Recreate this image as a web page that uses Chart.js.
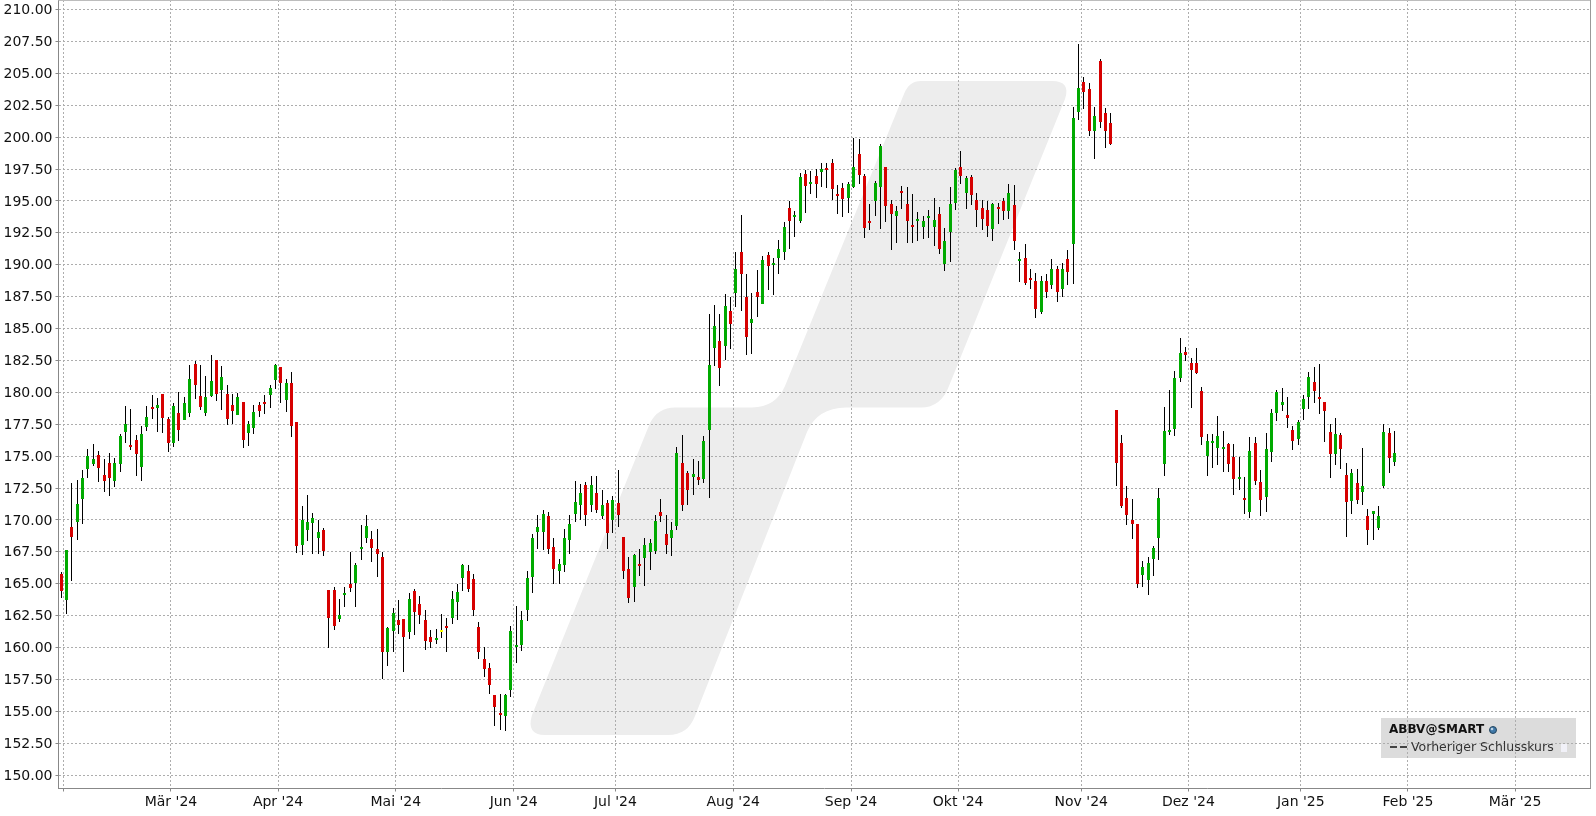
<!DOCTYPE html>
<html lang="de">
<head>
<meta charset="utf-8">
<title>ABBV@SMART</title>
<script src="https://cdn.jsdelivr.net/npm/chart.js@4"></script>
<style>
html,body{margin:0;padding:0;background:#fff;overflow:hidden}
#wrap{position:absolute;left:0;top:0;width:1596px;height:816px}
</style>
</head>
<body>
<div id="wrap"><canvas id="c" width="1596" height="816"></canvas></div>
<script>
const opens = [
165.75,163.74,169.43,169.85,171.65,173.98,174.37,175.05,173.51,174.45,
173.04,174.37,176.88,175.86,176.25,174.14,177.27,178.84,178.76,179.86,
177.9,176.02,178.37,177.82,178.37,182.21,179.7,178.37,179.7,182.52,
180.17,179.86,179.0,178.21,179.23,176.8,177.19,179.0,179.23,179.78,
180.96,181.98,179.39,180.72,177.66,168.02,169.2,169.75,168.57,169.2,
164.49,164.49,162.22,164.1,164.96,165.04,167.71,168.57,168.49,167.71,
167.08,159.63,161.28,162.14,162.22,161.2,164.41,163.39,162.14,160.81,
160.57,161.2,161.67,162.3,163.55,165.43,165.98,165.35,161.59,159.09,
158.38,156.3,154.87,154.63,156.66,160.03,160.18,162.92,165.51,169.03,
169.03,170.29,167.86,165.98,166.45,168.41,170.44,171.15,172.72,171.15,
172.09,170.29,171.31,169.97,171.31,168.64,166.14,164.73,166.53,167.0,
167.47,167.55,170.6,168.88,168.56,169.5,174.44,173.66,173.34,173.34,
173.19,177.03,183.5,184.05,183.66,186.4,187.81,191.02,187.49,185.46,
187.88,186.95,190.78,190.0,190.55,191.02,194.46,193.76,193.45,197.13,
196.34,196.97,197.28,197.6,197.99,195.56,196.03,195.25,196.11,198.69,
196.97,193.45,195.01,196.11,197.68,194.78,193.84,195.8,194.78,193.13,
193.45,192.98,193.68,192.98,193.99,190.08,192.58,194.86,197.68,195.64,
196.89,195.09,194.46,194.31,192.82,194.54,195.01,194.23,194.68,190.29,
190.53,188.96,188.73,186.3,188.73,188.41,189.67,188.1,190.45,191.63,
201.96,204.31,203.77,200.48,205.96,201.89,201.1,178.6,176.01,171.7,
169.98,169.66,165.66,165.27,166.92,168.56,174.37,176.87,177.11,181.11,
183.14,182.28,182.28,180.09,175.0,176.01,175.62,175.54,175.93,174.91,
173.19,171.7,170.6,176.01,172.95,171.78,175.31,178.36,178.99,178.21,
177.03,176.32,178.68,179.62,180.79,179.62,179.23,176.87,175.15,176.64,
173.5,171.46,172.88,172.17,170.29,170.45,169.35,172.67,176.82,174.55];
const closes = [
164.44,167.63,168.68,171.24,173.27,175.0,174.76,174.06,173.04,173.27,
174.45,176.57,177.5,175.7,175.16,176.72,178.06,178.68,179.0,177.98,
176.02,178.92,177.04,179.15,181.03,180.56,178.84,179.62,180.88,179.86,
181.19,177.9,178.53,179.62,176.25,177.5,178.45,178.53,179.07,180.33,
182.13,180.72,180.72,177.35,167.94,169.98,169.82,170.14,169.04,167.55,
162.3,161.67,162.53,164.26,164.65,166.45,167.87,169.51,167.79,167.32,
159.63,161.52,162.69,161.75,160.81,163.79,162.77,162.53,160.5,160.42,
160.73,161.2,161.51,163.79,164.33,166.45,164.57,162.92,159.63,158.3,
157.05,155.35,154.71,156.3,161.28,160.18,162.14,165.43,168.56,169.43,
170.44,167.7,166.14,166.53,168.56,169.66,171.38,172.09,170.37,172.72,
170.76,171.15,168.96,171.54,170.37,165.98,163.86,167.23,166.37,168.02,
168.17,169.9,170.29,168.02,169.19,175.22,171.15,172.32,173.58,173.11,
176.17,182.13,185.22,181.93,186.79,185.38,189.69,189.29,184.36,185.77,
187.49,190.39,189.92,190.16,191.25,192.98,193.45,193.92,196.89,196.19,
196.5,196.34,197.52,197.44,195.95,195.4,195.17,196.34,197.68,197.05,
192.9,193.29,196.42,199.32,194.62,194.0,194.23,195.64,193.45,192.98,
193.6,193.45,193.84,193.52,191.25,191.88,194.78,197.44,196.97,196.81,
195.48,194.31,193.6,193.05,194.78,194.39,194.23,195.64,191.86,190.45,
188.57,188.8,186.53,188.73,187.87,189.67,187.87,189.67,189.43,201.49,
203.84,203.53,200.48,201.65,201.18,200.48,199.46,174.44,171.07,170.37,
169.66,164.96,166.29,166.6,167.78,171.7,176.95,177.03,181.11,183.07,
182.91,181.73,181.5,176.48,176.17,176.17,176.56,175.7,174.37,173.19,
173.35,171.54,175.38,173.03,171.54,175.54,178.36,180.01,179.23,177.97,
176.17,177.66,179.46,181.18,180.09,179.46,178.52,175.15,176.72,175.54,
171.39,173.66,171.54,172.64,169.19,170.68,170.29,176.9,174.86,175.25];
const highs = [
165.9,167.68,172.86,173.1,173.95,175.55,175.94,175.39,174.76,175.23,
174.84,176.72,178.92,178.68,176.64,177.35,178.92,179.78,179.55,179.86,
178.06,179.15,180.02,179.62,182.13,182.45,182.13,181.27,182.92,182.52,
182.05,180.56,179.86,179.94,179.23,177.74,179.0,179.23,179.78,180.56,
182.21,181.98,181.03,181.58,177.66,171.08,171.94,170.53,169.98,169.35,
164.49,164.73,163.79,164.73,167.47,166.61,169.59,170.37,169.12,169.28,
167.47,161.59,163.08,163.71,162.22,164.26,164.57,164.02,162.92,161.36,
161.44,162.61,162.3,164.41,164.96,166.53,166.45,165.74,161.98,160.03,
158.77,156.3,156.36,156.36,161.67,163.24,162.85,165.98,168.88,170.37,
170.76,170.6,168.56,166.92,169.27,170.37,173.03,172.79,172.95,173.42,
173.42,172.32,171.54,171.85,173.89,168.64,167.08,167.31,167.7,168.56,
168.49,170.37,171.62,170.37,169.82,175.69,176.63,173.81,174.75,174.6,
176.56,186.12,186.87,186.16,187.73,187.49,191.02,193.92,189.29,187.81,
189.61,190.7,191.02,190.55,191.96,193.37,195.01,194.23,197.21,197.44,
197.36,197.52,197.99,197.99,198.3,196.27,196.42,196.5,199.95,199.87,
197.13,194.78,196.58,199.48,197.68,195.09,194.62,196.19,196.11,195.56,
194.15,193.84,194.31,195.25,194.54,192.9,196.11,197.6,198.93,196.97,
197.05,195.64,195.09,195.01,194.86,194.86,195.25,196.34,196.25,191.0,
191.63,189.67,189.35,189.12,189.28,190.45,189.9,190.14,191.16,202.36,
207.29,204.71,204.24,202.36,206.12,202.28,201.89,178.6,176.64,172.64,
171.62,169.66,166.76,167.07,167.94,172.48,178.83,180.17,181.66,184.24,
183.54,182.67,183.46,180.4,176.72,176.72,178.13,176.95,176.01,175.93,
174.91,173.35,176.48,176.48,173.89,176.8,178.68,180.17,180.32,179.62,
177.34,177.81,179.77,181.58,181.97,182.2,179.23,177.5,177.97,176.8,
174.44,173.97,173.97,175.62,170.84,170.68,171.07,177.5,177.21,176.98];
const lows = [
163.9,162.6,165.2,168.4,169.67,173.27,174.2,172.96,172.18,171.86,
172.57,173.74,176.02,175.47,173.43,173.04,176.96,177.9,176.88,176.8,
175.31,175.7,176.17,177.82,178.06,179.47,178.6,178.13,179.62,179.31,
178.6,177.43,177.5,178.21,175.63,175.78,176.72,178.06,178.29,178.76,
180.25,179.15,178.45,176.49,167.39,167.24,168.34,167.32,167.32,167.16,
159.95,161.36,161.99,163.16,164.34,163.16,166.85,168.18,166.69,165.51,
157.57,158.54,159.63,161.05,158.07,160.65,160.97,161.83,159.79,159.95,
160.26,160.73,159.63,161.83,162.14,164.41,164.33,162.45,159.09,157.68,
156.34,153.85,153.54,153.46,156.11,158.77,159.71,162.06,164.26,167.7,
167.62,167.31,164.96,164.96,165.9,167.31,169.82,169.97,169.5,170.6,
170.52,170.05,167.7,168.96,169.43,165.35,163.47,163.55,165.59,164.8,
166.06,167.31,169.82,167.31,167.15,169.19,170.68,171.15,171.93,172.72,
172.88,171.7,182.09,180.52,182.56,183.42,186.71,186.4,182.95,183.03,
185.93,186.95,188.04,187.65,189.29,190.39,191.25,192.19,193.29,194.07,
195.56,195.25,196.11,196.03,195.09,193.99,193.76,194.07,196.03,196.34,
192.11,192.74,193.84,192.82,193.37,191.17,191.72,194.39,191.72,191.72,
191.88,192.04,192.11,191.49,190.86,189.53,190.23,194.31,196.34,194.39,
194.7,192.98,192.74,192.19,191.88,193.21,193.52,193.6,191.16,188.65,
188.41,188.1,185.83,186.14,187.4,188.1,187.08,187.47,188.41,188.49,
201.34,202.2,200.08,198.28,200.71,199.14,199.38,172.64,170.92,169.58,
168.49,164.64,164.72,164.1,165.59,166.84,173.42,176.64,176.56,180.79,
182.44,178.75,181.42,175.85,173.42,174.05,174.29,173.74,173.74,171.93,
172.33,170.45,170.13,172.72,170.29,170.6,174.52,177.74,178.52,177.19,
175.46,175.85,177.81,178.68,179.15,178.28,176.09,173.27,174.29,173.97,
168.64,170.45,171.23,171.15,168.02,168.41,169.19,172.51,173.69,174.24];

// session slots on the time axis (the last ones are still empty)
const sessionSlots = 286;
const monthStartSlots = [1,21,41,63,85,104,126,148,168,191,211,232,252,272];
const monthLabels = ["","Mär '24","Apr '24","Mai '24","Jun '24","Jul '24","Aug '24","Sep '24","Okt '24","Nov '24","Dez '24","Jan '25","Feb '25","Mär '25"];
const priceTicks = [150,152.5,155,157.5,160,162.5,165,167.5,170,172.5,175,177.5,180,182.5,185,187.5,190,192.5,195,197.5,200,202.5,205,207.5,210];
const legendTitle = "ABBV@SMART";
const legendEntry = "Vorheriger Schlusskurs";

const GREEN = "#00aa00", RED = "#d60000", DOJI = "#ffff00";
const FONT = '"DejaVu Sans", Verdana, sans-serif';
const labels = Array.from({length: sessionSlots}, (_, i) => String(i + 1));
const wickData = lows.map((l, i) => [l, highs[i]]);
const bodyData = opens.map((o, i) => [Math.min(o, closes[i]), Math.max(o, closes[i])]);
const bodyColors = opens.map((o, i) => closes[i] > o ? GREEN : closes[i] < o ? RED : DOJI);

function drawWatermark(ctx) {
  ctx.save();
  ctx.fillStyle = "#ededed";
  ctx.beginPath();
  ctx.moveTo(921, 81);
  ctx.lineTo(1052, 81);
  ctx.quadraticCurveTo(1071, 81, 1065, 99);
  ctx.lineTo(949, 386);
  ctx.quadraticCurveTo(941, 407.5, 921, 407.5);
  ctx.lineTo(846, 407.5);
  ctx.quadraticCurveTo(817, 408, 807, 432);
  ctx.lineTo(695, 716);
  ctx.quadraticCurveTo(688, 735, 668, 735);
  ctx.lineTo(545, 735);
  ctx.quadraticCurveTo(526, 735, 532, 715);
  ctx.lineTo(650, 423);
  ctx.quadraticCurveTo(658, 407.5, 675, 407.5);
  ctx.lineTo(752, 407.5);
  ctx.quadraticCurveTo(776, 407, 785, 386);
  ctx.lineTo(904, 94);
  ctx.quadraticCurveTo(909, 81, 921, 81);
  ctx.closePath();
  ctx.fill();
  ctx.restore();
}

const backdrop = {
  id: "backdrop",
  beforeDraw(chart) {
    const ctx = chart.ctx;
    drawWatermark(ctx);
    ctx.save();
    ctx.fillStyle = "#dcdcdc";
    ctx.fillRect(1381, 718, 195, 40);
    ctx.restore();
  },
  beforeDatasetsDraw(chart) {
    // snap the candles to whole device pixels, as the crisp original is
    chart.data.datasets.forEach((ds, di) => {
      chart.getDatasetMeta(di).data.forEach(el => {
        if (el.y == null || isNaN(el.y)) return;
        el.x = Math.floor(el.x) + 0.5;
        el.y = Math.round(el.y);
        el.base = Math.round(el.base);
      });
    });
  },
  afterDraw(chart) {
    const ctx = chart.ctx, a = chart.chartArea;
    ctx.save();
    ctx.strokeStyle = "#bdbdbd";
    ctx.lineWidth = 1;
    ctx.beginPath();
    ctx.moveTo(a.left, 0.5); ctx.lineTo(a.right, 0.5);
    ctx.stroke();
    ctx.strokeStyle = "#999";
    ctx.beginPath();
    ctx.moveTo(1590.5, 0); ctx.lineTo(1590.5, a.bottom);
    ctx.stroke();

    ctx.fillStyle = "#111";
    ctx.textBaseline = "middle";
    ctx.textAlign = "left";
    ctx.font = "bold 12px " + FONT;
    ctx.fillText(legendTitle, 1389, 730);
    ctx.font = "12.5px " + FONT;
    ctx.fillStyle = "#333";
    ctx.fillText(legendEntry, 1411, 748);

    ctx.fillStyle = "#3f78a8";
    ctx.strokeStyle = "#26465f";
    ctx.lineWidth = 1;
    ctx.beginPath(); ctx.arc(1493, 730, 3.5, 0, Math.PI * 2); ctx.fill(); ctx.stroke();
    ctx.fillStyle = "#bcd4e6";
    ctx.beginPath(); ctx.arc(1492, 729, 1.3, 0, Math.PI * 2); ctx.fill();

    ctx.strokeStyle = "#444";
    ctx.lineWidth = 2;
    ctx.setLineDash([7, 3]);
    ctx.beginPath(); ctx.moveTo(1390, 747); ctx.lineTo(1407, 747); ctx.stroke();
    ctx.setLineDash([]);

    ctx.fillStyle = "#f1f1f8";
    ctx.fillRect(1561, 744, 6, 8);
    ctx.restore();
  }
};

new Chart(document.getElementById("c"), {
  type: "bar",
  data: {
    labels,
    datasets: [
      {label: "Kerzenkörper", data: bodyData, backgroundColor: bodyColors, barThickness: 3, minBarLength: 2, inflateAmount: 0, grouped: false, order: 1, xAxisID: "x", yAxisID: "y"},
      {label: "Hoch-Tief", data: wickData, backgroundColor: "#000000", barThickness: 1, inflateAmount: 0, grouped: false, order: 2, xAxisID: "x", yAxisID: "y"}
    ]
  },
  plugins: [backdrop],
  options: {
    responsive: false,
    animation: false,
    devicePixelRatio: 1,
    layout: {padding: {left: 0, top: 0, right: 6, bottom: 0}},
    plugins: {legend: {display: false}, title: {display: false}, tooltip: {enabled: false}},
    scales: {
      x: {type: "category", display: false, offset: true},
      xm: {
        type: "linear", position: "bottom", min: 0, max: sessionSlots, offset: false,
        afterBuildTicks(s) { s.ticks = monthStartSlots.map(v => ({value: v})); },
        afterFit(s) { s.height = 27.5; s.paddingLeft = 0; s.paddingRight = 0; },
        grid: {display: true, offset: false, color: "#adadad", lineWidth: 1, tickColor: "#888", tickLength: 3, drawTicks: true, drawOnChartArea: true},
        border: {display: true, color: "#888", width: 1, dash: [2, 2]},
        ticks: {
          autoSkip: false, maxRotation: 0, minRotation: 0, padding: 2, color: "#111",
          font: {family: FONT, size: 14},
          callback: (v, i) => monthLabels[i]
        }
      },
      y: {
        type: "linear", position: "left", min: 148.95, max: 210.745,
        afterBuildTicks(s) { s.ticks = priceTicks.map(v => ({value: v})); },
        afterFit(s) { s.width = 58.5; s.paddingTop = 0; s.paddingBottom = 0; },
        grid: {display: true, color: "#adadad", lineWidth: 1, tickColor: "#888", tickLength: 3},
        border: {display: true, color: "#888", width: 1, dash: [2, 2]},
        ticks: {
          autoSkip: false, padding: 3, labelOffset: 1, color: "#111",
          font: {family: FONT, size: 14},
          callback: v => Number(v).toFixed(2)
        }
      }
    }
  }
});
</script>
</body>
</html>
